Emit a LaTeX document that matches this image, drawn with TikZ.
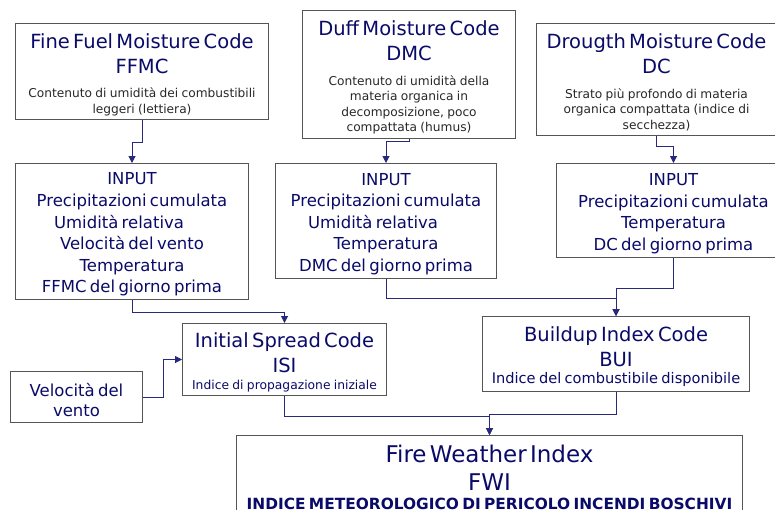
\documentclass[tikz,border=0pt]{standalone}
\usepackage{fontspec}
\setmainfont{DejaVu Sans}
\usepackage{tikz}
\usetikzlibrary{arrows.meta,positioning}
\definecolor{navy}{RGB}{10,10,105}
\definecolor{linkblue}{RGB}{40,40,125}
\definecolor{boxgray}{RGB}{85,85,85}
\definecolor{notegray}{RGB}{40,40,40}
\newcommand{\boxtitle}{\fontsize{19.5}{25}\selectfont}
\newcommand{\boxinput}{\fontsize{16.5}{21.6}\selectfont}
\newcommand{\boxnote}{\fontsize{12.2}{15.5}\selectfont}
\tikzset{
box/.style={rectangle, draw=boxgray, line width=1pt, fill=white, anchor=north west, align=center, text=navy, inner xsep=0pt, inner ysep=2pt, execute at end node={\par\vspace{-6pt}}},
link/.style={draw=linkblue, line width=1pt, -{Triangle[length=7pt,width=7pt]}}
}

\begin{document}
\begin{tikzpicture}[x=1pt,y=-1pt]
    \useasboundingbox (0,0) rectangle (775,509);
    \clip (0,0) rectangle (775,509);
    \fill[white] (0,0) rectangle (775,509);
    % top row: the three moisture codes
    \node[box, text width=253, minimum height=96] (ffmc) at (15,23) {\boxtitle Fine Fuel Moisture Code\par FFMC\par\vspace{9pt}\color{notegray}\boxnote Contenuto di umidità dei combustibili\par leggeri (lettiera)\par};
    \node[box, text width=213, minimum height=128] (dmc) at (302,10) {\boxtitle Duff Moisture Code\par DMC\par\vspace{9pt}\color{notegray}\boxnote Contenuto di umidità della\par materia organica in\par decomposizione, poco\par compattata (humus)\par};
    \node[box, text width=240, minimum height=112] (dc) at (536,23) {\boxtitle Drougth Moisture Code\par DC\par\vspace{9pt}\color{notegray}\boxnote Strato più profondo di materia\par organica compattata (indice di\par secchezza)\par};
    % inputs
    \node[box, text width=233, minimum height=136] (in1) at (15,163) {\boxinput INPUT\par Precipitazioni cumulata\par Umidità relativa\hspace*{26pt}\par Velocità del vento\par Temperatura\par FFMC del giorno prima\par};
    \node[box, text width=221, minimum height=115] (in2) at (275,163) {\boxinput INPUT\par Precipitazioni cumulata\par Umidità relativa\hspace*{26pt}\par Temperatura\par DMC del giorno prima\par};
    \node[box, text width=234, minimum height=94] (in3) at (556,163) {\boxinput INPUT\par Precipitazioni cumulata\par Temperatura\par DC del giorno prima\par};
    % derived codes
    \node[box, text width=204, minimum height=72] (isi) at (182,323) {\boxtitle Initial Spread Code\par ISI\par\fontsize{12.3}{16.3}\selectfont Indice di propagazione iniziale\par};
    \node[box, text width=132, minimum height=51] (vento) at (10,371) {\fontsize{16.5}{20.5}\selectfont Velocità del\par vento\par};
    \node[box, text width=267, minimum height=75] (bui) at (482,316) {\boxtitle Buildup Index Code\par BUI\par\fontsize{14.6}{17}\selectfont Indice del combustibile disponibile\par};
    \node[box, text width=506, minimum height=78] (fwi) at (236,435) {\fontsize{23}{28.5}\selectfont Fire Weather Index\par FWI\par\fontsize{15.4}{19}\selectfont\bfseries INDICE METEOROLOGICO DI PERICOLO INCENDI BOSCHIVI\par};
    % connectors
    \draw[link] (ffmc.south) -- ++(0,22) -| (in1.north);
    \draw[link] (dmc.south) -- ++(0,2) -| (in2.north);
    \draw[link] (dc.south) -- ++(0,10) -| (in3.north);
    \draw[link] (in1.south) -- ++(0,12) -| (isi.north);
    \draw[link] (in2.south) -- ++(0,19) -| (bui.north);
    \draw[link] (in3.south) -- ++(0,30) -| (bui.north);
    \draw[link] (vento.east) -- ++(20,0) |- (isi.west);
    \draw[link] (isi.south) -- ++(0,20) -| (fwi.north);
    \draw[link] (bui.south) -- ++(0,22) -| (fwi.north);
\end{tikzpicture}
\end{document}
